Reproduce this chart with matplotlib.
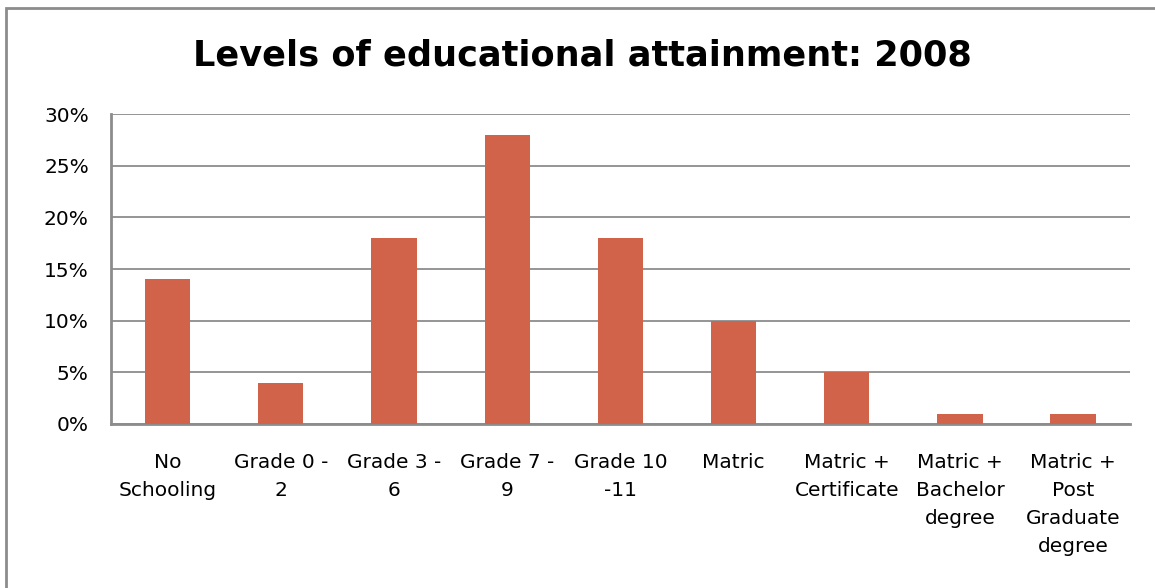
import matplotlib.pyplot as plt
from matplotlib.patches import Rectangle
from matplotlib.ticker import PercentFormatter

categories = ["No\nSchooling", "Grade 0 -\n2", "Grade 3 -\n6", "Grade 7 -\n9",
              "Grade 10\n-11", "Matric", "Matric +\nCertificate",
              "Matric +\nBachelor\ndegree", "Matric +\nPost\nGraduate\ndegree"]
shares = [14, 4, 18, 28, 18, 10, 5, 1, 1]
yticks = [0, 5, 10, 15, 20, 25, 30]

plt.rcParams['font.family'] = ['DejaVu Sans']

fig = plt.figure(figsize=(11.55, 5.88), dpi=100)
ax = fig.add_axes([0.0961, 0.279, 0.882, 0.527])

# outer chart border (runs off the right/bottom edge)
fig.patches.append(Rectangle((6 / 1155, -0.05), 1.1, 1 - 8 / 588 + 0.05,
                             transform=fig.transFigure, fill=False,
                             edgecolor='#8c8c8c', linewidth=2))

x = range(len(categories))
ax.bar(x, shares, width=0.4, color='#D0634A', zorder=3)

ax.set_xlim(-0.5, len(categories) - 0.5)
ax.set_ylim(0, 30)
ax.set_yticks(yticks)
ax.yaxis.set_major_formatter(PercentFormatter(decimals=0))
ax.grid(axis='y', color='#8c8c8c', linewidth=1.3, zorder=0)
ax.set_xticks(list(x))
ax.set_xticklabels(categories, fontsize=14.5, linespacing=1.6, va='top')
ax.tick_params(axis='both', length=0, labelsize=14.5)
ax.tick_params(axis='x', pad=21)
ax.tick_params(axis='y', pad=16)

for side in ['top', 'right']:
    ax.spines[side].set_visible(False)
for side in ['left', 'bottom']:
    ax.spines[side].set_color('#8c8c8c')
    ax.spines[side].set_linewidth(2)

fig.text(0.504, 0.905, "Levels of educational attainment: 2008", ha='center',
         va='center', fontsize=25.3, fontweight='bold')

fig.savefig("out.png", dpi=100)
